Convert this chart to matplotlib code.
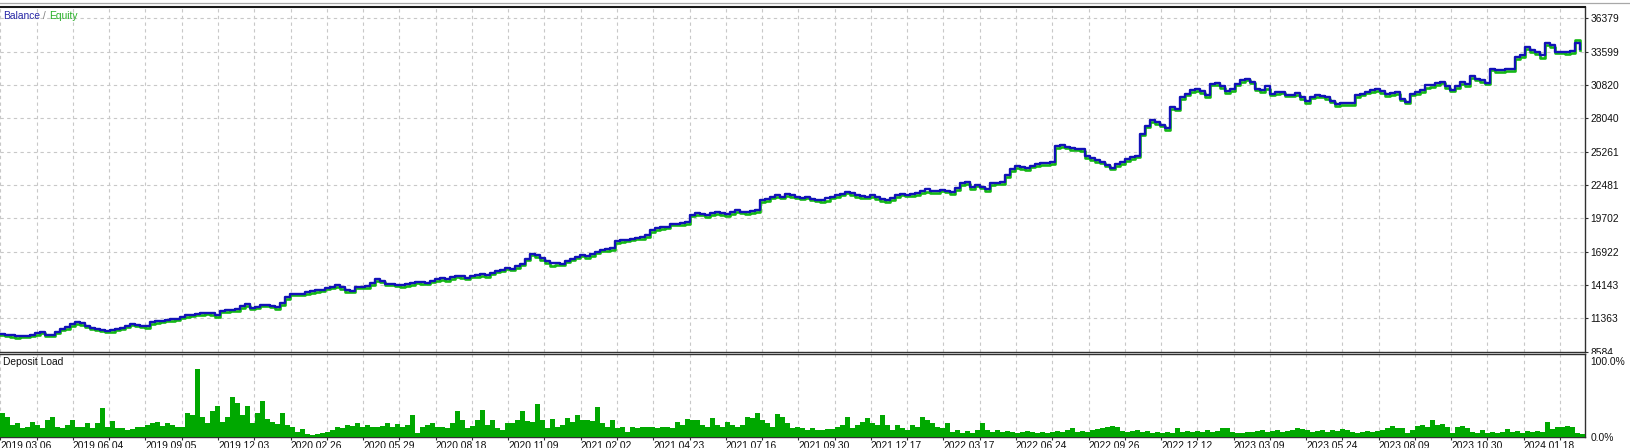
import numpy as np
import matplotlib
matplotlib.use("Agg")
import matplotlib.pyplot as plt
from matplotlib.patches import Rectangle
from matplotlib.lines import Line2D

# ---------------- data ----------------
balance = [
    10003, 9990, 9930, 9860, 9880, 9900, 9920, 10150, 10250, 10000,
    9920, 10200, 10480, 10650, 10900, 11030, 10950, 10750, 10560, 10450,
    10350, 10280, 10350, 10460, 10560, 10700, 10850, 10800, 10700, 10700,
    11030, 11100, 11150, 11200, 11280, 11320, 11500, 11600, 11650, 11730,
    11760, 11800, 11810, 11600, 11950, 12020, 12060, 12150, 12420, 12560,
    12250, 12300, 12450, 12500, 12400, 12280, 12620, 13100, 13400, 13400,
    13400, 13550, 13620, 13680, 13730, 13850, 14000, 14090, 13950, 13700,
    13650, 13950, 13980, 14030, 14300, 14650, 14500, 14250, 14180, 14120,
    14093, 14200, 14300, 14400, 14350, 14300, 14450, 14600, 14700, 14650,
    14800, 14900, 14850, 14750, 14900, 15000, 15050, 14950, 15150, 15300,
    15400, 15550, 15500, 15700, 15900, 16300, 16700, 16600, 16400, 16100,
    15950, 16000, 15900, 16150, 16300, 16500, 16650, 16550, 16700, 16900,
    17050, 17100, 17200, 17800, 17850, 17900, 18000, 18050, 18100, 18300,
    18700, 18900, 18950, 19000, 19200, 19250, 19300, 19400, 20000, 20100,
    20050, 19950, 20100, 20200, 20150, 20050, 20200, 20350, 20250, 20200,
    20300, 20400, 21200, 21300, 21450, 21600, 21500, 21700, 21650, 21500,
    21400, 21450, 21300, 21250, 21200, 21350, 21500, 21600, 21750, 21900,
    21800, 21650, 21550, 21500, 21600, 21450, 21300, 21250, 21400, 21600,
    21750, 21650, 21700, 21800, 21950, 22100, 22000, 21950, 22050, 21950,
    21881, 22200, 22600, 22716, 22300, 22500, 22300, 22100, 22630, 22680,
    22716, 23300, 23800, 24030, 23950, 23850, 24050, 24200, 24300, 24350,
    24400, 25700, 25780, 25650, 25550, 25500, 25450, 24900, 24700, 24550,
    24400, 24150, 23920, 24200, 24380, 24650, 24800, 24900, 26750, 27400,
    27860, 27750, 27500, 27200, 28950, 28850, 29800, 30100, 30370, 30500,
    30300, 29950, 30930, 30950, 30700, 30300, 30500, 30930, 31200, 31350,
    31100, 30500, 30400, 30700, 30100, 30200, 30250, 30000, 30000, 30150,
    29800, 29500, 29850, 29950, 29900, 29800, 29500, 29260, 29300, 29300,
    29310, 29950, 30100, 30230, 30400, 30500, 30300, 30100, 30150, 30230,
    29677, 29394, 30094, 30200, 30370, 30787, 30850, 31000, 31100, 30700,
    30400, 30700, 31062, 30900, 31538, 31350, 31204, 31000, 32181, 32050,
    32100, 32150, 32181, 33148, 33300, 33950, 33700, 33600, 33290, 34350,
    34125, 33566, 33560, 33560, 33650, 34300, 33850,
]

floating_loss = [
    60, 80, 100, 120, 90, 70, 80, 150, 130, 90, 60, 100, 140, 160, 180, 150, 120, 100, 90, 80,
    70, 80, 100, 120, 140, 110, 90, 80, 100, 130, 150, 120, 100, 90, 110, 130, 120, 100, 90, 80,
    100, 120, 140, 110, 90, 100, 120, 150, 170, 140, 120, 100, 80, 110, 130, 150, 120, 100, 90, 110,
    130, 150, 120, 100, 80, 90, 110, 140, 160, 130, 110, 90, 100, 120, 150, 170, 140, 110, 90, 100,
    120, 140, 160, 130, 110, 90, 100, 130, 150, 170, 140, 120, 100, 110, 130, 160, 180, 150, 120, 100,
    90, 110, 140, 160, 130, 110, 100, 120, 150, 170, 200, 160, 130, 110, 100, 120, 140, 160, 130, 110,
    100, 120, 150, 170, 140, 120, 100, 110, 130, 160, 180, 150, 120, 100, 90, 110, 140, 160, 130, 110,
    100, 120, 140, 160, 180, 150, 120, 100, 110, 130, 150, 170, 140, 120, 100, 110, 130, 150, 170, 140,
    120, 100, 110, 130, 160, 180, 150, 120, 100, 110, 140, 160, 130, 110, 100, 120, 150, 170, 140, 120,
    100, 110, 130, 150, 170, 200, 160, 130, 110, 100, 120, 140, 160, 180, 150, 120, 110, 100, 120, 140,
    160, 180, 200, 170, 140, 120, 110, 130, 150, 170, 190, 160, 130, 110, 120, 140, 160, 180, 150, 130,
    110, 120, 140, 170, 190, 160, 130, 110, 100, 120, 150, 170, 140, 120, 100, 110, 130, 160, 180, 150,
    120, 110, 130, 150, 170, 190, 160, 130, 110, 100, 120, 140, 160, 180, 150, 120, 100, 110, 130, 150,
    170, 190, 160, 130, 110, 120, 140, 160, 180, 150, 130, 110, 100, 120, 140, 160, 180, 200, 170, 140,
    120, 110, 130, 150, 170, 190, 210, 180, 150, 130, 110, 120, 140, 160, 150, 120, 100, 110, 130, 150,
    170, 190, 160, 130, 120, 140, 160, 180, 200, 170, 140, 120, 110, 130, 150, -250, 130,
]

deposit_load = [
    30.0, 25.0, 15.4, 17.5, 11.3, 13.3, 19.6, 15.4, 11.3, 21.7,
    25.0, 13.3, 11.3, 15.4, 21.7, 12.5, 13.3, 17.5, 11.3, 18.3,
    36.3, 12.5, 20.8, 11.3, 11.3, 9.2, 10.0, 12.5, 13.3, 15.4,
    17.5, 19.6, 14.2, 17.5, 15.4, 13.3, 13.3, 30.8, 27.9, 85.0,
    25.8, 17.5, 32.1, 38.3, 19.6, 25.8, 50.0, 42.5, 27.9, 38.3,
    17.5, 30.0, 44.6, 22.5, 19.6, 16.7, 30.0, 15.4, 12.5, 7.1,
    10.0, 4.2, 2.9, 4.2, 5.0, 7.1, 9.2, 13.3, 11.3, 15.4,
    14.2, 17.5, 13.3, 15.4, 12.5, 13.3, 14.2, 17.5, 13.3, 16.7,
    13.3, 15.4, 27.9, 5.0, 13.3, 15.4, 18.3, 13.3, 12.5, 11.3,
    17.5, 32.1, 21.7, 11.3, 14.2, 21.7, 33.3, 15.4, 21.7, 11.3,
    9.2, 18.3, 17.5, 21.7, 32.1, 20.8, 19.6, 41.7, 21.7, 11.3,
    22.5, 13.3, 15.4, 23.8, 19.6, 27.9, 21.7, 21.7, 20.8, 37.1,
    17.5, 13.3, 21.7, 11.3, 13.3, 7.1, 12.5, 11.3, 13.3, 13.3,
    12.5, 11.3, 13.3, 12.5, 11.3, 19.6, 15.4, 22.5, 21.7, 21.7,
    15.4, 13.3, 23.8, 15.4, 12.5, 19.6, 15.4, 13.3, 15.4, 25.0,
    23.8, 30.0, 21.7, 17.5, 13.3, 29.2, 25.0, 17.5, 11.3, 13.3,
    11.3, 9.2, 11.3, 9.2, 9.2, 10.0, 10.0, 13.3, 15.4, 25.8,
    11.3, 15.4, 19.6, 23.8, 17.5, 15.4, 27.9, 15.4, 9.2, 15.4,
    11.3, 9.2, 15.4, 13.3, 25.0, 21.7, 17.5, 13.3, 11.3, 17.5,
    7.1, 9.2, 5.8, 8.3, 5.8, 9.2, 17.5, 9.2, 7.1, 9.2,
    7.1, 8.3, 7.1, 5.8, 7.1, 8.3, 7.1, 5.0, 7.1, 5.0,
    7.1, 8.3, 7.1, 9.2, 11.3, 7.1, 8.3, 7.1, 9.2, 10.0,
    11.3, 12.5, 14.2, 13.3, 8.3, 7.1, 8.3, 9.2, 7.1, 7.9,
    5.8, 7.1, 5.0, 7.1, 5.8, 11.3, 7.1, 8.3, 7.1, 7.9,
    7.1, 9.2, 7.1, 8.3, 11.3, 11.3, 7.1, 5.0, 5.8, 6.7,
    7.1, 7.9, 9.2, 7.1, 8.3, 9.2, 7.1, 8.3, 9.2, 11.3,
    10.0, 9.2, 7.1, 8.3, 9.2, 7.1, 9.2, 8.3, 10.0, 9.2,
    7.1, 5.8, 7.1, 7.9, 7.1, 7.9, 9.2, 11.3, 14.2, 11.3,
    11.3, 5.0, 9.2, 14.2, 15.4, 13.3, 21.7, 15.4, 16.7, 13.3,
    5.8, 13.3, 14.2, 11.3, 7.1, 5.0, 9.2, 5.8, 7.1, 5.0,
    7.1, 10.0, 7.1, 8.3, 5.8, 8.3, 7.1, 8.3, 7.1, 19.6,
    10.0, 13.3, 12.5, 14.2, 13.3, 5.8, 4.2,
]

balance_ticks = [8584, 11363, 14143, 16922, 19702, 22481,
                 25261, 28040, 30820, 33599, 36379]
load_ticks = [0, 100]
load_tick_labels = ["0.0%", "100.0%"]
date_labels = [
    "2019.03.06", "2019.06.04", "2019.09.05", "2019.12.03", "2020.02.26",
    "2020.05.29", "2020.08.18", "2020.11.09", "2021.02.02", "2021.04.23",
    "2021.07.16", "2021.09.30", "2021.12.17", "2022.03.17", "2022.06.24",
    "2022.09.26", "2022.12.12", "2023.03.09", "2023.05.24", "2023.08.09",
    "2023.10.30", "2024.01.18",
]

# ---------------- style ----------------
plt.rcParams['font.family'] = ['Liberation Sans', 'DejaVu Sans']
plt.rcParams['lines.scale_dashes'] = False
FS = 7.4
BLUE = '#1212B8'
GREEN = '#14B814'
BAR_GREEN = '#00A800'
GRID = '#C8C8C8'
SPINE = '#303030'

W, H = 1630, 448
fig = plt.figure(figsize=(W / 100, H / 100), dpi=100)
fig.patch.set_facecolor('white')


def box(l, t, r, b):
    return [l / W, 1 - b / H, (r - l) / W, (b - t) / H]


ax = fig.add_axes(box(0, 7.3, 1585, 351.5))
ax2 = fig.add_axes(box(0, 353.8, 1585, 437.3))
ax2.set_zorder(2)

n = len(balance)
x = np.arange(n)
bal = np.array(balance, dtype=float)
eq = bal - np.array(floating_loss, dtype=float)

px_per_unit = 1585.0 / n
grid_px = 36.27
grid_x = [(0.4 + k * grid_px) / px_per_unit for k in range(0, 44)]

# --- top panel
ax.plot(x, eq, color=GREEN, lw=1.9, drawstyle='steps-post', zorder=3)
ax.plot(x, bal, color=BLUE, lw=1.7, drawstyle='steps-post', zorder=4)
ax.set_xlim(0, n)
ax.set_ylim(8584, 37297)
ax.set_xticks(grid_x)
ax.tick_params(axis='x', length=0, labelbottom=False)
ax.set_yticks(balance_ticks)
ax.set_yticklabels([str(v) for v in balance_ticks])
ax.yaxis.tick_right()
ax.tick_params(axis='y', direction='out', length=2.2, width=0.8, color=SPINE,
               pad=1.5, labelsize=FS, labelcolor='#111111')
ax.grid(True, color=GRID, lw=0.8, ls=(0, (2.4, 2.4)))
ax.set_axisbelow(True)
ax.spines['left'].set_visible(False)
for s in ('top', 'right', 'bottom'):
    ax.spines[s].set_color(SPINE)
    ax.spines[s].set_linewidth(1.0)
ax.spines['top'].set_linewidth(1.5)
ax.spines['top'].set_color('#1a1a1a')

t1 = ax.text(3 / 1585, 1 - (16 - 7.3) / 344.2, "Balance", transform=ax.transAxes,
             color='#2828A8', fontsize=FS, va='center', ha='left')
t2 = ax.annotate(" / ", xy=(1, 0), xycoords=t1, va='bottom', ha='left',
                 color='#808080', fontsize=FS)
t3 = ax.annotate("Equity", xy=(1, 0), xycoords=t2, va='bottom', ha='left',
                 color='#28B028', fontsize=FS)

# --- bottom panel
ax2.bar(x, deposit_load, width=1.0, align='edge', color=BAR_GREEN,
        edgecolor='none', linewidth=0, zorder=3)
ax2.set_xlim(0, n)
ax2.set_ylim(0, 103.75)
ax2.set_xticks(grid_x)
labels = []
for k in range(len(grid_x)):
    labels.append(date_labels[k // 2] if (k % 2 == 0 and k // 2 < len(date_labels)) else "")
ax2.set_xticklabels(labels)
for lab in ax2.get_xticklabels():
    lab.set_horizontalalignment('left')
ax2.tick_params(axis='x', direction='out', length=2.4, width=0.8, color=SPINE,
                pad=0.3, labelsize=FS, labelcolor='#111111')
ax2.grid(True, axis='x', color=GRID, lw=0.8, ls=(0, (2.4, 2.4)))
ax2.set_axisbelow(True)
ax2.set_yticks(load_ticks)
ax2.set_yticklabels(load_tick_labels)
ax2.yaxis.tick_right()
ax2.tick_params(axis='y', length=0, pad=4.0, labelsize=FS, labelcolor='#111111')
ylabs = ax2.get_yticklabels()
ylabs[1].set_verticalalignment('top')
ax2.spines['left'].set_visible(False)
for s in ('top', 'right', 'bottom'):
    ax2.spines[s].set_color(SPINE)
    ax2.spines[s].set_linewidth(1.0)
ax2.text(3 / 1585, 1 - (362 - 353.8) / 83.5, "Deposit Load", transform=ax2.transAxes,
         color='#111111', fontsize=FS, va='center', ha='left')

# cover the lower part of the bottom balance label (as in the original)
fig.add_artist(Rectangle((1586 / W, 0), (W - 1586) / W, (H - 354) / H,
                         transform=fig.transFigure, facecolor='white',
                         edgecolor='none', zorder=1))
# thin grey line at the very top
fig.add_artist(Line2D([0, 1], [1 - 2.7 / H, 1 - 2.7 / H], transform=fig.transFigure,
                      color='#A8A8A8', lw=0.9))

fig.savefig('out.png', dpi=100, facecolor='white')
